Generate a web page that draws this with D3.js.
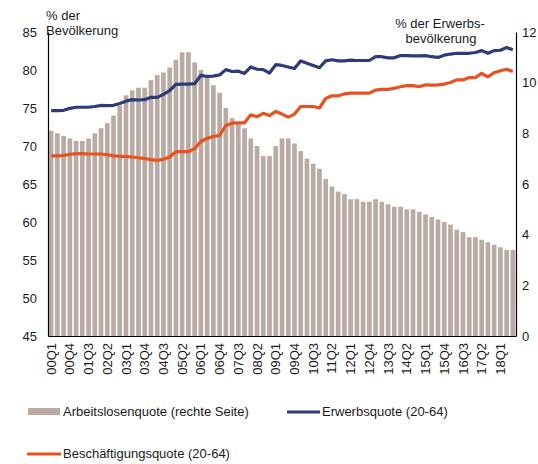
<!doctype html>
<html lang="de">
<head>
<meta charset="UTF-8">
<title>Erwerbsquote</title>
<script src="https://d3js.org/d3.v7.min.js"></script>
<style>
  body { margin: 0; background: #fff; }
  text { font-family: "Liberation Sans", Arial, sans-serif; fill: #1a1a1a; }
</style>
</head>
<body>
<div id="chart"></div>
<script>
// quarters 00Q1 .. 18Q3
var quarters = [];
for (var yr = 0; yr <= 18; yr++) {
  for (var q = 1; q <= 4; q++) {
    if (yr == 18 && q > 3) break;
    quarters.push((yr < 10 ? "0" : "") + yr + "Q" + q);
  }
}

// Arbeitslosenquote (rechte Seite), %
var unemployment = [8.1, 8.0, 7.9, 7.8, 7.7, 7.7, 7.8, 8.0, 8.2, 8.4,
  8.7, 9.1, 9.5, 9.7, 9.8, 9.8, 10.1, 10.3, 10.4, 10.6,
  10.9, 11.2, 11.2, 10.8, 10.5, 10.2, 9.9, 9.6, 9.0, 8.6,
  8.4, 8.2, 7.8, 7.5, 7.1, 7.1, 7.5, 7.8, 7.8, 7.6,
  7.3, 7.0, 6.8, 6.6, 6.2, 5.9, 5.7, 5.6, 5.4, 5.4,
  5.3, 5.3, 5.4, 5.3, 5.2, 5.1, 5.1, 5.0, 5.0, 4.9,
  4.8, 4.7, 4.6, 4.5, 4.4, 4.2, 4.1, 3.9, 3.9, 3.8,
  3.7, 3.6, 3.5, 3.4, 3.4];

// Erwerbsquote (20-64)
var participation = [74.65, 74.65, 74.7, 74.95, 75.1, 75.1, 75.1, 75.2, 75.35, 75.3,
  75.35, 75.6, 75.9, 76.1, 76.05, 76.1, 76.4, 76.4, 76.8, 77.3,
  78.1, 78.15, 78.15, 78.2, 79.3, 79.15, 79.2, 79.35, 80.05, 79.8,
  79.85, 79.55, 80.4, 80.1, 80.05, 79.6, 80.7, 80.6, 80.4, 80.2,
  81.2, 80.9, 80.6, 80.3, 81.2, 81.35, 81.2, 81.2, 81.3, 81.25,
  81.25, 81.25, 81.75, 81.75, 81.6, 81.6, 81.9, 81.9, 81.85, 81.85,
  81.9, 81.75, 81.65, 81.95, 82.1, 82.2, 82.2, 82.2, 82.3, 82.55,
  82.2, 82.55, 82.6, 82.95, 82.65];

// Beschäftigungsquote (20-64)
var employment = [68.7, 68.7, 68.75, 68.9, 69.0, 69.0, 68.95, 68.95, 68.95, 68.85,
  68.7, 68.65, 68.6, 68.55, 68.45, 68.35, 68.2, 68.1, 68.25, 68.55,
  69.25, 69.25, 69.25, 69.65, 70.6, 71.0, 71.25, 71.4, 72.7, 73.0,
  73.05, 73.05, 74.1, 73.85, 74.3, 74.0, 74.55, 74.2, 73.8, 74.2,
  75.2, 75.2, 75.2, 75.0, 76.25, 76.6, 76.6, 76.85, 76.95, 76.95,
  76.95, 76.95, 77.35, 77.45, 77.45, 77.6, 77.8, 77.95, 77.95, 77.8,
  78.05, 78.0, 78.05, 78.15, 78.35, 78.7, 78.7, 79.0, 79.0, 79.55,
  79.1, 79.65, 79.9, 80.1, 79.8];

var leftTicks = [45, 50, 55, 60, 65, 70, 75, 80, 85];
var rightTicks = [0, 2, 4, 6, 8, 10, 12];

function draw() {
  var width = 538, height = 464;
  var plotLeft = 48, plotRight = 516, plotTop = 32, plotBottom = 336;

  var svg = d3.select("#chart").append("svg")
    .attr("width", width)
    .attr("height", height);

  var x = d3.scaleBand()
    .domain(quarters)
    .range([plotLeft, plotRight])
    .paddingInner(0.25)
    .paddingOuter(0.125);

  var yL = d3.scaleLinear().domain([45, 85]).range([plotBottom, plotTop]);
  var yR = d3.scaleLinear().domain([0, 12]).range([plotBottom, plotTop]);

  // bars
  svg.append("g").selectAll("rect")
    .data(unemployment)
    .enter().append("rect")
      .attr("x", function(d, i) { return x(quarters[i]); })
      .attr("y", function(d) { return yR(d); })
      .attr("width", x.bandwidth())
      .attr("height", function(d) { return plotBottom - yR(d); })
      .attr("fill", "#b9aba3");

  // lines
  var line = d3.line()
    .x(function(d, i) { return x(quarters[i]) + x.bandwidth() / 2; })
    .y(function(d) { return yL(d); });

  svg.append("path")
    .datum(participation)
    .attr("d", line)
    .attr("fill", "none")
    .attr("stroke", "#2f3a7a")
    .attr("stroke-width", 3.2)
    .attr("stroke-linejoin", "round");

  svg.append("path")
    .datum(employment)
    .attr("d", line)
    .attr("fill", "none")
    .attr("stroke", "#e8521f")
    .attr("stroke-width", 3.2)
    .attr("stroke-linejoin", "round");

  // axes
  var leftAxis = svg.append("g")
    .attr("transform", "translate(" + plotLeft + ",0)")
    .call(d3.axisLeft(yL).tickValues(leftTicks).tickSize(0).tickPadding(11));

  var rightAxis = svg.append("g")
    .attr("transform", "translate(" + plotRight + ",0)")
    .call(d3.axisRight(yR).tickValues(rightTicks).tickSize(0).tickPadding(6));

  var xAxis = svg.append("g")
    .attr("transform", "translate(0," + plotBottom + ")")
    .call(d3.axisBottom(x)
      .tickValues(quarters.filter(function(d, i) { return i % 3 == 0; }))
      .tickSize(0));

  [leftAxis, rightAxis, xAxis].forEach(function(g) {
    g.select(".domain").attr("stroke", "#000").attr("stroke-width", 1.2);
    g.selectAll("text").style("font-family", "Liberation Sans, Arial, sans-serif")
      .attr("fill", "#1a1a1a");
  });
  leftAxis.selectAll("text").style("font-size", "13px");
  rightAxis.selectAll("text").style("font-size", "13px");

  xAxis.selectAll("text")
    .style("font-size", "13px")
    .attr("transform", "rotate(-90)")
    .attr("text-anchor", "end")
    .attr("x", -7)
    .attr("y", 0)
    .attr("dy", "0.35em");

  // axis titles
  svg.append("text").attr("x", 46).attr("y", 20).style("font-size", "13px").text("% der");
  svg.append("text").attr("x", 46).attr("y", 35).style("font-size", "13px").text("Bevölkerung");
  svg.append("text").attr("x", 440).attr("y", 28).attr("text-anchor", "middle")
    .style("font-size", "13px").text("% der Erwerbs-");
  svg.append("text").attr("x", 441).attr("y", 43).attr("text-anchor", "middle")
    .style("font-size", "13px").text("bevölkerung");

  // legend
  var legend = svg.append("g");
  legend.append("rect").attr("x", 28).attr("y", 408).attr("width", 32).attr("height", 7).attr("fill", "#b9aba3");
  legend.append("text").attr("x", 63).attr("y", 416).style("font-size", "13px").text("Arbeitslosenquote (rechte Seite)");
  legend.append("line").attr("x1", 287).attr("x2", 320).attr("y1", 412).attr("y2", 412)
    .attr("stroke", "#2f3a7a").attr("stroke-width", 3);
  legend.append("text").attr("x", 322).attr("y", 416).style("font-size", "13px").text("Erwerbsquote (20-64)");
  legend.append("line").attr("x1", 27).attr("x2", 61).attr("y1", 454).attr("y2", 454)
    .attr("stroke", "#e8521f").attr("stroke-width", 3);
  legend.append("text").attr("x", 63).attr("y", 458).style("font-size", "13px").text("Beschäftigungsquote (20-64)");
}

draw();
</script>
</body>
</html>
